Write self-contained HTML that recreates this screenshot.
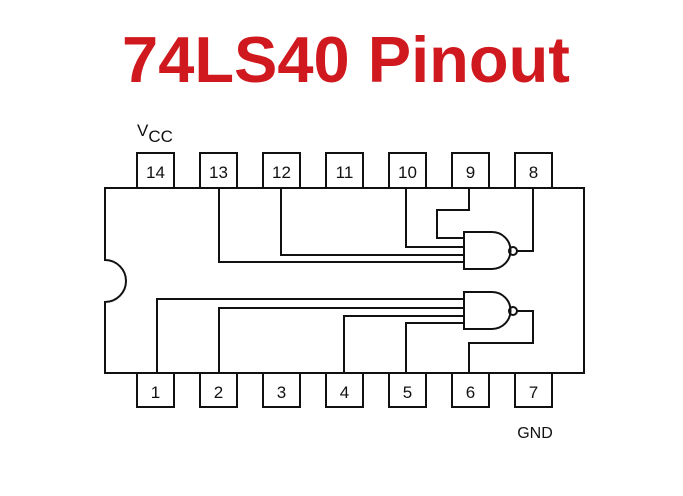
<!DOCTYPE html>
<html><head><meta charset="utf-8"><style>
html,body{margin:0;padding:0;background:#fff;width:683px;height:496px;overflow:hidden}
</style></head><body>
<svg width="683" height="496" viewBox="0 0 683 496" xmlns="http://www.w3.org/2000/svg">
<text x="346" y="82" text-anchor="middle" font-family="Liberation Sans, sans-serif" font-weight="bold" font-size="65" fill="#d0191e">74LS40 Pinout</text>
<g fill="none" stroke="#111" stroke-width="2">
<path d="M105 188 H584 V373 H105 V302 A21 21 0 0 0 105 260 Z" fill="#fff"/>
<g fill="#fff">
<rect x="137" y="153" width="37" height="35"/><rect x="200" y="153" width="37" height="35"/>
<rect x="263" y="153" width="37" height="35"/><rect x="326" y="153" width="37" height="35"/>
<rect x="389" y="153" width="37" height="35"/><rect x="452" y="153" width="37" height="35"/>
<rect x="515" y="153" width="37" height="35"/>
<rect x="137" y="373" width="37" height="34"/><rect x="200" y="373" width="37" height="34"/>
<rect x="263" y="373" width="37" height="34"/><rect x="326" y="373" width="37" height="34"/>
<rect x="389" y="373" width="37" height="34"/><rect x="452" y="373" width="37" height="34"/>
<rect x="515" y="373" width="37" height="34"/>
</g>
<!-- gate 1 -->
<path d="M464 232 H492 A18.5 18.5 0 0 1 492 269 H464 Z"/>
<circle cx="513" cy="251" r="4"/>
<path d="M517 251 H533 V188"/>
<path d="M469 188 V210 H437 V238 H464"/>
<path d="M406 188 V247 H464"/>
<path d="M281 188 V255 H464"/>
<path d="M219 188 V262 H464"/>
<!-- gate 2 -->
<path d="M464 292 H492 A18.5 18.5 0 0 1 492 329 H464 Z"/>
<circle cx="513" cy="311" r="4"/>
<path d="M517 311 H533 V343 H469 V373"/>
<path d="M157 373 V299 H464"/>
<path d="M219 373 V308 H464"/>
<path d="M344 373 V316 H464"/>
<path d="M406 373 V323 H464"/>
</g>
<g font-family="Liberation Sans, sans-serif" font-size="17" fill="#111" text-anchor="middle">
<text x="155.5" y="178">14</text><text x="218.5" y="178">13</text><text x="281.5" y="178">12</text>
<text x="344.5" y="178">11</text><text x="407.5" y="178">10</text><text x="470.5" y="178">9</text>
<text x="533.5" y="178">8</text>
<text x="155.5" y="398">1</text><text x="218.5" y="398">2</text><text x="281.5" y="398">3</text>
<text x="344.5" y="398">4</text><text x="407.5" y="398">5</text><text x="470.5" y="398">6</text>
<text x="533.5" y="398">7</text>
<text x="535" y="438" font-size="16">GND</text>
</g>
<text x="137" y="136" font-family="Liberation Sans, sans-serif" font-size="17" fill="#111">V<tspan font-size="17" dy="6">CC</tspan></text>
</svg>
</body></html>
